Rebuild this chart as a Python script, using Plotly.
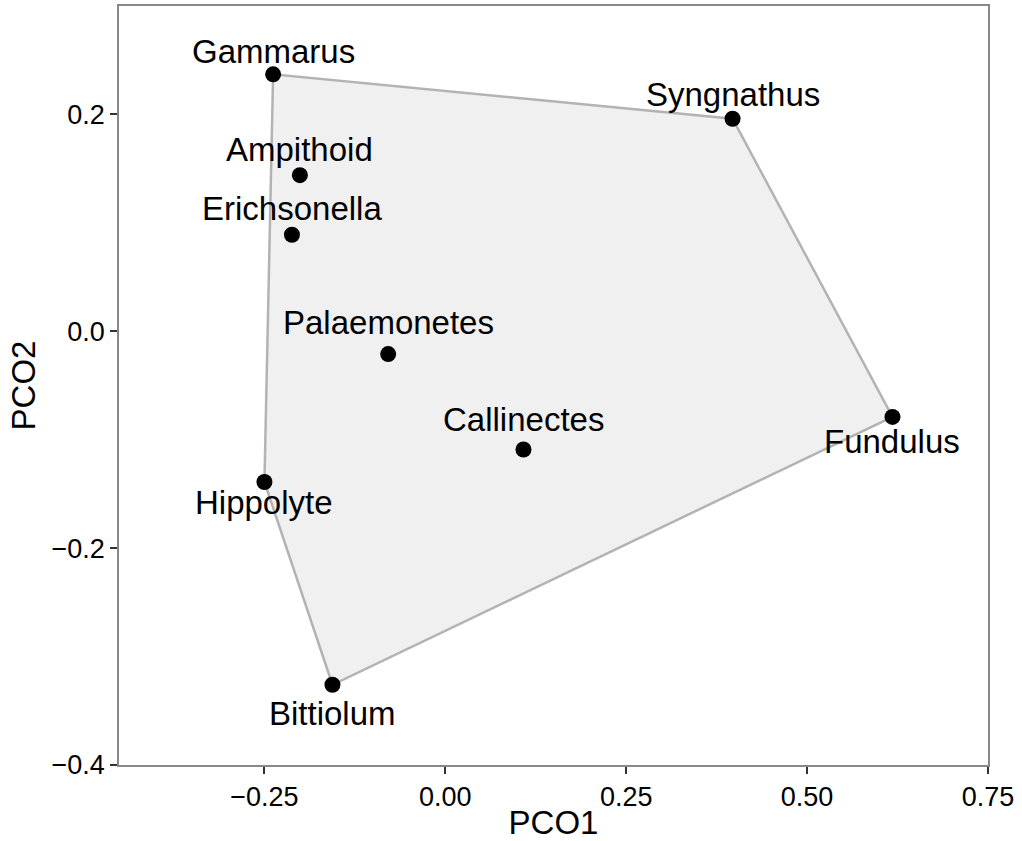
import numpy as np
import plotly.graph_objects as go

# Principal coordinate scores per taxon
taxa = ["Gammarus", "Syngnathus", "Ampithoid", "Erichsonella", "Palaemonetes",
        "Callinectes", "Fundulus", "Hippolyte", "Bittiolum"]
pco1 = [-0.238, 0.397, -0.201, -0.212, -0.079, 0.108, 0.618, -0.250, -0.156]
pco2 = [0.237, 0.196, 0.144, 0.089, -0.021, -0.109, -0.079, -0.139, -0.326]

x_ticks = [-0.25, 0.0, 0.25, 0.5, 0.75]
x_tick_text = ["\u22120.25", "0.00", "0.25", "0.50", "0.75"]
y_ticks = [-0.4, -0.2, 0.0, 0.2]
y_tick_text = ["\u22120.4", "\u22120.2", "0.0", "0.2"]

# label placement: side of the point and pixel gap
label_side = {"Gammarus": "above", "Syngnathus": "above", "Ampithoid": "above",
              "Erichsonella": "above", "Palaemonetes": "above", "Callinectes": "above",
              "Fundulus": "below", "Hippolyte": "below", "Bittiolum": "below"}
label_gap = {"Gammarus": 2, "Syngnathus": 4, "Ampithoid": 5, "Erichsonella": 6,
             "Palaemonetes": 11, "Callinectes": 9, "Fundulus": 4, "Hippolyte": 0,
             "Bittiolum": 8}


def convex_hull(xs, ys):
    pts = sorted(zip(xs, ys))

    def cross(o, a, b):
        return (a[0] - o[0]) * (b[1] - o[1]) - (a[1] - o[1]) * (b[0] - o[0])

    lower, upper = [], []
    for p in pts:
        while len(lower) >= 2 and cross(lower[-2], lower[-1], p) <= 0:
            lower.pop()
        lower.append(p)
    for p in reversed(pts):
        while len(upper) >= 2 and cross(upper[-2], upper[-1], p) <= 0:
            upper.pop()
        upper.append(p)
    hull = lower[:-1] + upper[:-1]
    hull.append(hull[0])
    return [p[0] for p in hull], [p[1] for p in hull]


hx, hy = convex_hull(pco1, pco2)

fig = go.Figure()
fig.add_trace(go.Scatter(
    x=hx, y=hy, mode="lines", fill="toself",
    fillcolor="#f0f0f0", line=dict(color="#b3b3b3", width=2.5),
    hoverinfo="skip", showlegend=False))
fig.add_trace(go.Scatter(
    x=pco1, y=pco2, mode="markers",
    marker=dict(color="black", size=16),
    text=taxa, hoverinfo="text", showlegend=False))

for name, xv, yv in zip(taxa, pco1, pco2):
    above = label_side[name] == "above"
    gap = label_gap[name]
    fig.add_annotation(
        x=xv, y=yv, text=name, showarrow=False,
        xanchor="center", yanchor="bottom" if above else "top",
        yshift=gap if above else -gap,
        font=dict(family="Liberation Sans, Arial, sans-serif", size=33, color="black"))

axis_common = dict(
    showgrid=False, zeroline=False, automargin=False,
    showline=True, mirror=True, linecolor="#888888", linewidth=1.5,
    ticks="outside", ticklen=7, tickwidth=1.5, tickcolor="#333333",
    tickfont=dict(family="Liberation Sans, Arial, sans-serif", size=27, color="black"),
)

fig.update_xaxes(
    range=[-0.451, 0.75], tickvals=x_ticks, ticktext=x_tick_text,
    title=dict(text="PCO1", standoff=4,
               font=dict(family="Liberation Sans, Arial, sans-serif", size=33, color="black")),
    **axis_common)
fig.update_yaxes(
    range=[-0.4, 0.3], tickvals=y_ticks, ticktext=y_tick_text,
    title=dict(text="PCO2", standoff=6,
               font=dict(family="Liberation Sans, Arial, sans-serif", size=33, color="black")),
    **axis_common)

fig.update_layout(
    width=1022, height=841,
    margin=dict(l=119, r=34, t=6, b=76),
    plot_bgcolor="white", paper_bgcolor="white",
)

fig.write_html("out.html")
